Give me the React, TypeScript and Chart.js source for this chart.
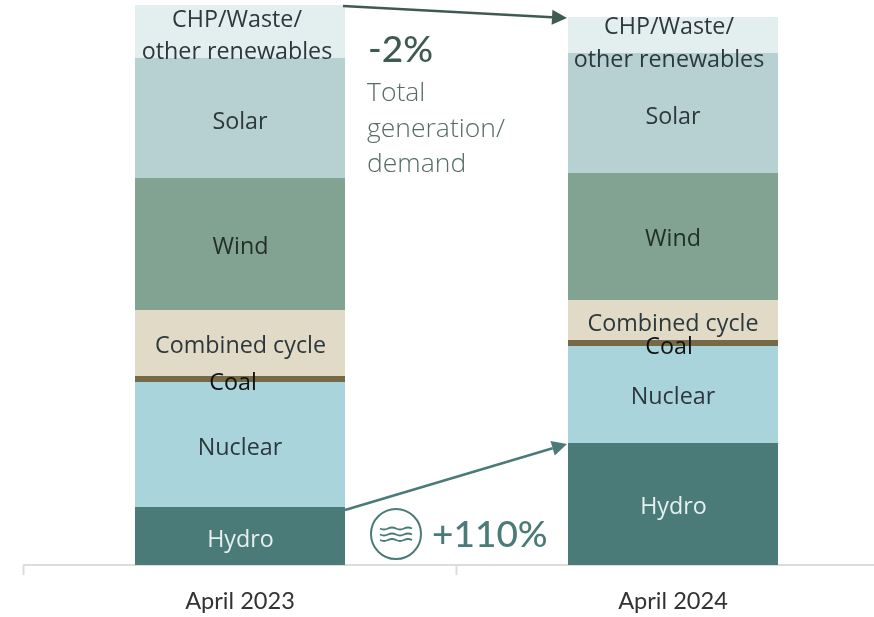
import React, { useEffect, useRef } from "react";
import { Chart, registerables } from "chart.js";

Chart.register(...registerables);

const months = ["April 2023", "April 2024"];
const hydro = [5.8, 12.2];
const nuclear = [12.5, 9.7];
const coal = [0.6, 0.6];
const combined = [6.6, 4.0];
const wind = [13.2, 12.7];
const solar = [12.0, 12.0];
const other = [5.3, 3.6];

const seriesNames = ["Hydro", "Nuclear", "Coal", "Combined cycle", "Wind", "Solar", "CHP/Waste/\nother renewables"];
const seriesColors = ["#4b7b79", "#a9d4dc", "#756a45", "#e0dac6", "#82a391", "#b7d1d2", "#e3eeef"];
const labelColors = ["#e6f0ef", "#2c383b", "#111111", "#2c383b", "#232e2b", "#2c383b", "#2c383b"];
const seriesValues = [hydro, nuclear, coal, combined, wind, solar, other];

const LABEL_FONT = '23.3px "Open Sans"';
const labelNudges: number[][][] = [
  [[0.5, 4], [0.5, 3]],
  [[0, 4], [0, 3]],
  [[-7, 4], [-4, 4]],
  [[0.5, 3], [0, 4]],
  [[0.5, 3], [0, 3]],
  [[0, 4], [0, 4]],
  [[-3, 5], [-4, 9]],
];

function arrow(ctx: CanvasRenderingContext2D, x1: number, y1: number, x2: number, y2: number, color: string) {
  const a = Math.atan2(y2 - y1, x2 - x1);
  const len = 15;
  const half = 7.5;
  const bx = x2 - len * Math.cos(a);
  const by = y2 - len * Math.sin(a);
  ctx.save();
  ctx.strokeStyle = color;
  ctx.fillStyle = color;
  ctx.lineWidth = 2.6;
  ctx.beginPath();
  ctx.moveTo(x1, y1);
  ctx.lineTo(bx, by);
  ctx.stroke();
  ctx.beginPath();
  ctx.moveTo(x2, y2);
  ctx.lineTo(bx - half * Math.sin(a), by + half * Math.cos(a));
  ctx.lineTo(bx + half * Math.sin(a), by - half * Math.cos(a));
  ctx.closePath();
  ctx.fill();
  ctx.restore();
}

function drawWaterIcon(ctx: CanvasRenderingContext2D, cx: number, cy: number, color: string) {
  ctx.save();
  ctx.strokeStyle = color;
  ctx.lineWidth = 2;
  ctx.beginPath();
  ctx.arc(cx, cy, 25, 0, Math.PI * 2);
  ctx.stroke();
  ctx.lineWidth = 1.8;
  for (const dy of [-5.5, 0.5, 6]) {
    ctx.beginPath();
    ctx.moveTo(cx - 16, cy + dy);
    for (let k = 0; k < 4; k++) {
      const s = cx - 16 + k * 8;
      ctx.quadraticCurveTo(s + 4, cy + dy + (k % 2 === 0 ? 2 : -2), s + 8, cy + dy);
    }
    ctx.stroke();
  }
  ctx.restore();
}

const overlayPlugin = {
  id: "overlay",
  afterDatasetsDraw(chart: any) {
    const ctx: CanvasRenderingContext2D = chart.ctx;
    ctx.save();
    ctx.textAlign = "center";
    ctx.textBaseline = "middle";
    ctx.font = LABEL_FONT;
    chart.data.datasets.forEach((ds: any, i: number) => {
      const meta = chart.getDatasetMeta(i);
      meta.data.forEach((bar: any, j: number) => {
        const [dx, dy] = labelNudges[i][j];
        const lines = String(ds.label).split("\n");
        const cy = (bar.y + bar.base) / 2 + dy;
        ctx.fillStyle = labelColors[i];
        lines.forEach((line, k) => {
          ctx.fillText(line, bar.x + dx, cy + (k - (lines.length - 1) / 2) * 32.5);
        });
      });
    });

    const top = chart.getDatasetMeta(6).data;
    const hy = chart.getDatasetMeta(0).data;
    const right = top[0].x + top[0].width / 2;
    const left = top[1].x - top[1].width / 2;
    arrow(ctx, right - 2, top[0].y + 1, left - 1, top[1].y + 1, "#3f5b50");
    arrow(ctx, right, hy[0].y + 3, left - 1, hy[1].y + 1, "#4b7b79");

    ctx.textAlign = "left";
    ctx.fillStyle = "#3f5b50";
    ctx.font = '500 37px Lato';
    ctx.fillText("-2%", 368, 50);
    ctx.fillStyle = "#566d64";
    ctx.font = '300 26.5px "Open Sans"';
    ctx.fillText("Total", 367, 93);
    ctx.fillText("generation/", 367, 129);
    ctx.fillText("demand", 367, 164);

    drawWaterIcon(ctx, 396, 534, "#4b7b79");
    ctx.fillStyle = "#4b7b79";
    ctx.font = '500 37px Lato';
    ctx.fillText("+110%", 432, 535);
    ctx.restore();
  },
};

export default function App() {
  const ref = useRef<HTMLCanvasElement>(null);
  useEffect(() => {
    if (!ref.current) return;
    const chart = new Chart(ref.current, {
      type: "bar",
      data: {
        labels: months,
        datasets: seriesNames.map((name, i) => ({
          label: name,
          data: seriesValues[i],
          backgroundColor: seriesColors[i],
          borderWidth: 0,
          categoryPercentage: 1,
          barPercentage: 0.485,
        })),
      },
      options: {
        animation: false,
        responsive: false,
        layout: { padding: { left: 23.5, right: 10.5, top: 5, bottom: 0 } },
        plugins: { legend: { display: false }, tooltip: { enabled: false } },
        scales: {
          x: {
            stacked: true,
            afterFit: (s: any) => { s.height = 52; },
            border: { color: "#dcdcdc", width: 2 },
            grid: { drawOnChartArea: false, color: "#dcdcdc", tickLength: 10, tickWidth: 2 },
            ticks: { color: "#333333", font: { family: "Lato", size: 23.6 }, padding: 12 },
          },
          y: { stacked: true, display: false, min: 0, max: 56 },
        },
      },
      plugins: [overlayPlugin],
    } as any);
    return () => chart.destroy();
  }, []);
  return (
    <div style={{ position: "fixed", left: 0, top: 0, width: 874, height: 617, overflow: "hidden", background: "#fff" }}>
      <canvas ref={ref} width={900} height={617} style={{ display: "block" }} />
    </div>
  );
}
